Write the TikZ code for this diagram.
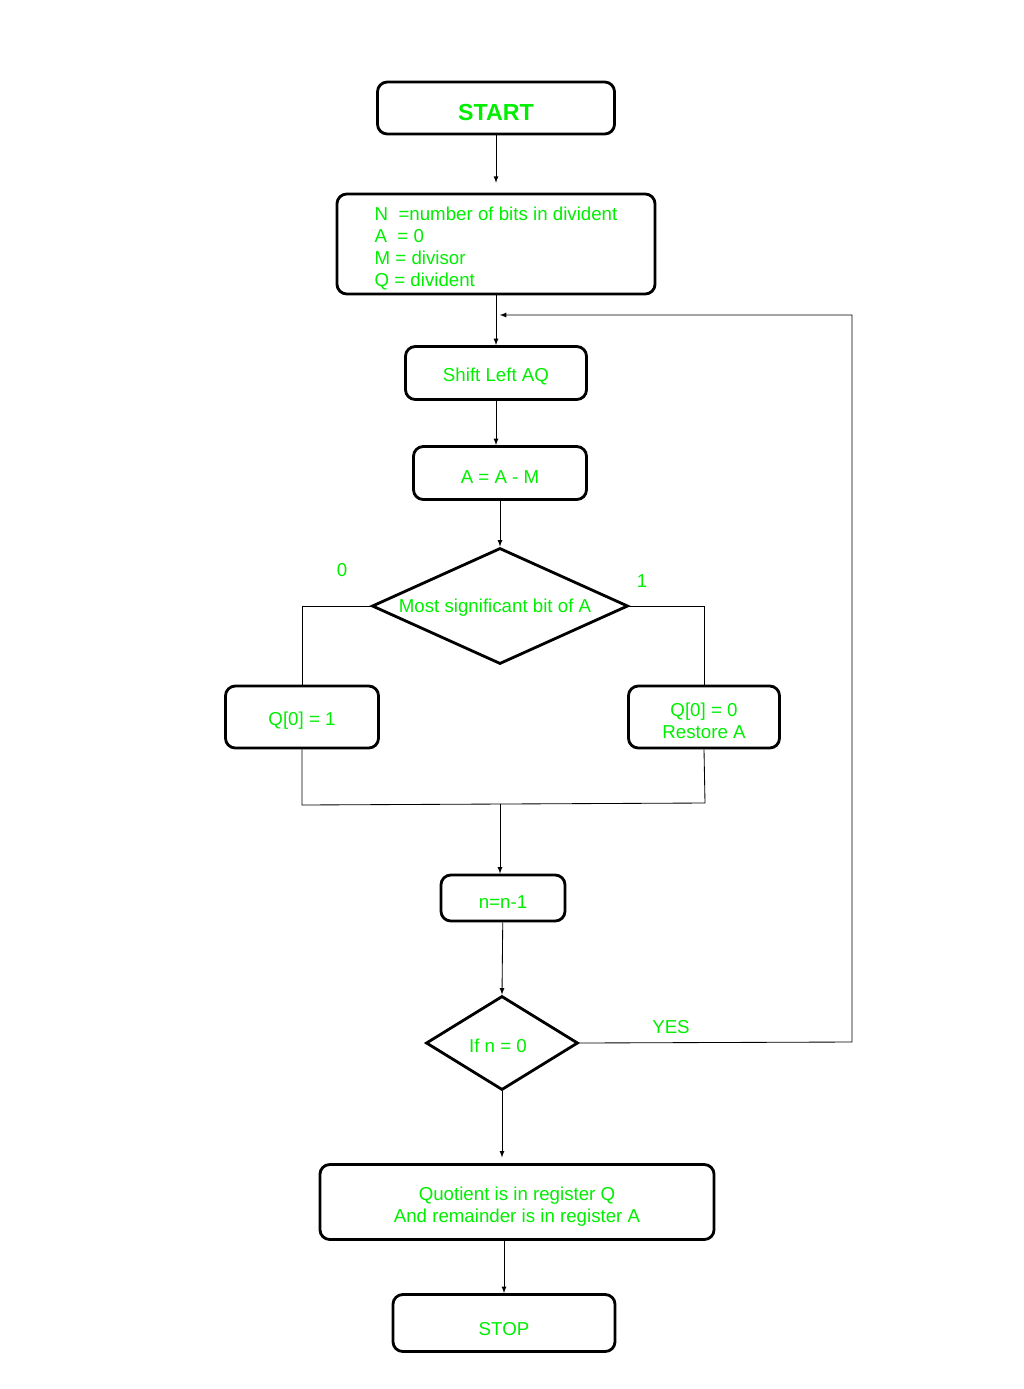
\documentclass[tikz,border=0pt]{standalone}
\usepackage{fontspec}
\setmainfont{Liberation Sans}
\usepackage{tikz}
\usetikzlibrary{shapes.geometric, arrows, positioning}
\definecolor{fgreen}{RGB}{0,238,0}
\newcommand{\lowstrut}[1]{\rule{0pt}{#1}}

\begin{document}
\begin{tikzpicture}[x=0.025cm, y=-0.025cm, >=latex,
    box/.style={draw, rounded corners=7pt, line width=2pt, text=fgreen,
        font=\fontsize{13.3}{15.6}\selectfont, align=center, inner sep=0pt,
        execute at begin node={\lowstrut{14.5pt}}},
    drop/.style={execute at begin node={\lowstrut{#1}}},
    cond/.style={draw, diamond, line width=2pt, inner sep=0pt},
    condtext/.style={text=fgreen, font=\fontsize{13.3}{15.6}\selectfont},
    link/.style={line width=0.6pt}]
    \useasboundingbox (0,0) rectangle (1024,1389);

    % Boxes
    \node[box, drop=18pt, minimum width=5.925cm, minimum height=1.3cm,
        font=\fontsize{16.5}{19}\selectfont\bfseries] (start) at (496,108) {START};
    \node[box, minimum width=7.95cm, minimum height=2.5cm, align=left] (init) at (496,244)
        {\lowstrut{15.5pt}N\ \ =number of bits in divident\\A\ \ = 0\\M = divisor\\Q = divident};
    \node[box, minimum width=4.525cm, minimum height=1.325cm] (shift) at (496,373) {Shift Left AQ};
    \node[box, minimum width=4.325cm, minimum height=1.325cm] (sub) at (500,473) {A = A - M};
    \node[box, drop=15.5pt, minimum width=3.825cm, minimum height=1.55cm] (qone) at (302,717) {Q[0] = 1};
    \node[box, minimum width=3.775cm, minimum height=1.55cm] (qzero) at (704,717)
        {\lowstrut{15.5pt}Q[0] = 0\\Restore A};
    \node[box, minimum width=3.1cm, minimum height=1.15cm] (dec) at (503,898) {n=n-1};
    \node[box, minimum width=9.85cm, minimum height=1.875cm] (result) at (517,1202)
        {\lowstrut{16.5pt}Quotient is in register Q\\And remainder is in register A};
    \node[box, drop=18pt, minimum width=5.55cm, minimum height=1.425cm] (stop) at (504,1323) {STOP};

    % Decisions
    \node[cond, minimum width=6.4cm, minimum height=2.9cm,
        label={[condtext, xshift=-0.125cm, yshift=-0.05cm]center:Most significant bit of A}] (msb) at (500,606) {};
    \node[cond, minimum width=3.8cm, minimum height=2.35cm,
        label={[condtext, xshift=-0.1cm, yshift=-0.075cm]center:If n = 0}] (ifz) at (502,1043) {};

    % Branch labels
    \node[condtext] (zero) at (342,570) {0};
    \node[condtext] (one) at (642,581) {1};
    \node[condtext] (yes) at (671,1027) {YES};

    % Joints
    \coordinate (loop) at (497,315);
    \coordinate (yesR) at (852,1042);
    \coordinate (yesT) at (852,315);
    \coordinate (mergeL) at (302,805);
    \coordinate (mergeR) at (705,803);
    \coordinate (mergeM) at (500,804);

    % Connectors
    \draw[link, ->, shorten >=7pt] (start) -- (init);
    \draw[link, ->] (init.south) -- (shift.north);
    \draw[link, ->] (shift) -- (shift |- sub.north);
    \draw[link, ->] (sub) -- (msb.north);
    \draw[link] (msb.west) -| (qone.north);
    \draw[link] (msb.east) -| (qzero.north);
    \draw[link] (qone.south) -- (mergeL) -- (mergeR) -- (qzero.south);
    \draw[link, ->] (mergeM) -- (mergeM |- dec.north);
    \draw[link, ->] (dec) -- (ifz.north);
    \draw[link, ->] (ifz.east) -- (yesR) -- (yesT) -- ([xshift=2pt]loop);
    \draw[link, ->, shorten >=4pt] (ifz.south) -- (ifz.south |- result.north);
    \draw[link, ->] (result.south -| stop) -- (stop.north);
\end{tikzpicture}
\end{document}
